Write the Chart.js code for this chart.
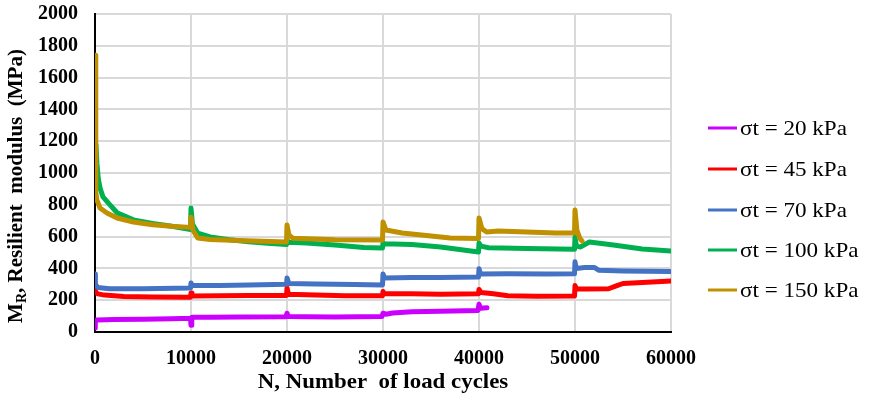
<!DOCTYPE html>
<html>
<head>
<meta charset="utf-8">
<script src="https://cdn.jsdelivr.net/npm/chart.js@4/dist/chart.umd.min.js"></script>
<style>
  html, body { margin: 0; padding: 0; background: #fff; }
  #wrap { width: 871px; height: 403px; }
</style>
</head>
<body>
<div id="wrap"><canvas id="c" width="871" height="403"></canvas></div>
<script>
// ---- Data ----
const seriesLabels = ['σt = 20 kPa', 'σt = 45 kPa', 'σt = 70 kPa', 'σt = 100 kPa', 'σt = 150 kPa'];
const seriesColors = ['#CC00FF', '#FF0000', '#4472C4', '#00B050', '#BF9000'];

const xTickValues = [0, 10000, 20000, 30000, 40000, 50000, 60000];
const yTickValues = [0, 200, 400, 600, 800, 1000, 1200, 1400, 1600, 1800, 2000];

const cycles20 = [0, 30, 200, 2000, 5000, 8000, 9950, 10000, 10080, 12000, 15000, 19900, 20000, 20150, 22000, 25000, 29900, 30000, 30300, 31000, 33000, 36000, 39900, 40000, 40150, 40833];
const mr20     = [25, 72, 76, 78, 80, 84, 86, 42, 92, 93, 95, 96, 118, 97, 96, 95, 98, 118, 112, 120, 127, 131, 136, 175, 150, 152];

const cycles45 = [0, 50, 300, 1000, 3000, 6000, 9950, 10000, 10100, 13000, 16000, 19950, 20000, 20150, 23000, 26000, 29950, 30000, 30150, 33000, 36000, 39950, 40000, 40200, 41500, 43000, 46000, 49950, 50000, 50150, 51000, 53500, 54300, 55000, 57000, 60000];
const mr45     = [262, 250, 240, 232, 224, 220, 219, 245, 226, 228, 230, 230, 278, 238, 232, 228, 228, 255, 240, 240, 238, 240, 268, 248, 240, 228, 225, 226, 292, 272, 270, 272, 290, 305, 312, 320];

const cycles70 = [0, 40, 300, 1500, 5000, 9950, 10000, 10150, 13000, 16000, 19950, 20000, 20200, 23000, 27000, 29950, 30000, 30150, 33000, 36000, 39950, 40000, 40150, 43000, 47000, 49950, 50000, 50120, 51000, 52000, 52500, 55000, 60000];
const mr70     = [365, 300, 280, 272, 272, 276, 308, 292, 292, 296, 300, 340, 305, 302, 298, 296, 365, 340, 342, 342, 346, 398, 365, 366, 365, 366, 442, 400, 405, 406, 388, 384, 380];

const cycles100 = [100, 200, 350, 550, 830, 1560, 2300, 4000, 6000, 8000, 9950, 10000, 10150, 10700, 12000, 14000, 16000, 18000, 19950, 20000, 20200, 22000, 25000, 28000, 29950, 30000, 30200, 33000, 36000, 39950, 40000, 40200, 41000, 45000, 49950, 50000, 50150, 50600, 51500, 54000, 57000, 60000];
const mr100     = [1180, 1060, 960, 900, 850, 800, 750, 705, 683, 665, 645, 780, 680, 622, 598, 580, 568, 558, 550, 578, 565, 560, 547, 532, 528, 560, 555, 550, 535, 503, 560, 540, 530, 525, 520, 597, 540, 535, 566, 547, 522, 510];

const cycles150 = [0, 80, 200, 520, 1250, 2300, 4000, 6000, 8000, 9950, 10000, 10200, 10700, 12000, 15000, 19950, 20000, 20200, 20600, 25000, 29950, 30000, 30300, 32000, 35000, 37000, 39950, 40000, 40300, 40800, 42000, 45000, 48000, 49950, 50000, 50200, 50500, 50730];
const mr150     = [1740, 880, 830, 780, 748, 717, 692, 675, 665, 658, 722, 640, 591, 582, 575, 566, 673, 610, 590, 580, 579, 692, 642, 623, 604, 591, 588, 717, 650, 629, 635, 629, 623, 623, 767, 640, 590, 572];

const allCycles = [cycles20, cycles45, cycles70, cycles100, cycles150];
const allMR = [mr20, mr45, mr70, mr100, mr150];

function pts(xs, ys) { return xs.map((x, i) => ({ x: x, y: ys[i] })); }

const datasets = seriesLabels.map((lab, i) => ({
  label: lab,
  data: pts(allCycles[i], allMR[i]),
  borderColor: seriesColors[i],
  backgroundColor: seriesColors[i],
  borderWidth: 5,
  borderJoinStyle: 'round',
  borderCapStyle: 'round',
  pointRadius: 0,
  tension: 0,
  fill: false,
  order: 5 - i
}));

const SERIF = '"Liberation Serif", "Times New Roman", serif';

const decorPlugin = {
  id: 'decor',
  afterDraw(chart) {
    const ctx = chart.ctx;
    const area = chart.chartArea;
    ctx.save();
    ctx.fillStyle = '#000';
    // Y axis title with subscript R
    ctx.save();
    ctx.translate(17, 186);
    ctx.rotate(-Math.PI / 2);
    const mainFont = 'bold 21px ' + SERIF;
    const subFont = 'bold 14px ' + SERIF;
    const p1 = 'M', p2 = 'R', p3 = ', Resilient  modulus  (MPa)';
    ctx.font = mainFont; const w1 = ctx.measureText(p1).width; const w3 = ctx.measureText(p3).width;
    ctx.font = subFont; const w2 = ctx.measureText(p2).width;
    const total = w1 + w2 + w3;
    let x = -total / 2;
    ctx.textBaseline = 'middle';
    ctx.textAlign = 'left';
    ctx.font = mainFont; ctx.fillText(p1, x, 0); x += w1;
    ctx.font = subFont; ctx.fillText(p2, x, 5); x += w2;
    ctx.font = mainFont; ctx.fillText(p3, x, 0);
    ctx.restore();
    // X axis title
    ctx.save();
    ctx.translate((area.left + area.right) / 2, 383);
    ctx.scale(1.09, 1);
    ctx.font = 'bold 21px ' + SERIF;
    ctx.textAlign = 'center';
    ctx.textBaseline = 'middle';
    ctx.fillText('N, Number  of load cycles', 0, 0);
    ctx.restore();
    // Legend
    const legendY = [128, 169, 210, 250, 290];
    chart.data.datasets.forEach((ds, i) => {
      const y = legendY[i];
      ctx.strokeStyle = ds.borderColor;
      ctx.lineWidth = 3;
      ctx.beginPath();
      ctx.moveTo(708, y);
      ctx.lineTo(737, y);
      ctx.stroke();
      ctx.save();
      ctx.translate(740, y + 1);
      ctx.scale(1.1, 1);
      ctx.font = '21px ' + SERIF;
      ctx.textAlign = 'left';
      ctx.textBaseline = 'middle';
      ctx.fillStyle = '#000';
      ctx.fillText(ds.label, 0, 0);
      ctx.restore();
    });
    ctx.restore();
  }
};

new Chart(document.getElementById('c'), {
  type: 'line',
  data: { datasets: datasets },
  options: {
    responsive: false,
    animation: false,
    devicePixelRatio: 1,
    layout: { padding: { top: 0, right: 200, left: 0, bottom: 0 } },
    plugins: { legend: { display: false }, tooltip: { enabled: false } },
    scales: {
      x: {
        type: 'linear',
        min: 0, max: 60000,
        afterBuildTicks: s => { s.ticks = xTickValues.map(v => ({ value: v })); },
        afterFit: s => { s.height = 71; },
        ticks: {
          callback: v => String(v),
          font: { family: SERIF, size: 20, weight: 'bold' },
          color: '#000',
          padding: 15,
          maxRotation: 0
        },
        grid: { color: '#D9D9D9', lineWidth: 2, drawTicks: false },
        border: { color: '#000', width: 2 }
      },
      y: {
        type: 'linear',
        min: 0, max: 2000,
        afterBuildTicks: s => { s.ticks = yTickValues.map(v => ({ value: v })); },
        afterFit: s => { s.width = 95; s.paddingTop = 14; s.paddingBottom = 0; },
        ticks: {
          callback: v => String(v),
          font: { family: SERIF, size: 20, weight: 'bold' },
          color: '#000',
          padding: 17
        },
        grid: { color: '#D9D9D9', lineWidth: 2, drawTicks: false },
        border: { color: '#000', width: 2 }
      }
    }
  },
  plugins: [decorPlugin]
});
</script>
</body>
</html>
